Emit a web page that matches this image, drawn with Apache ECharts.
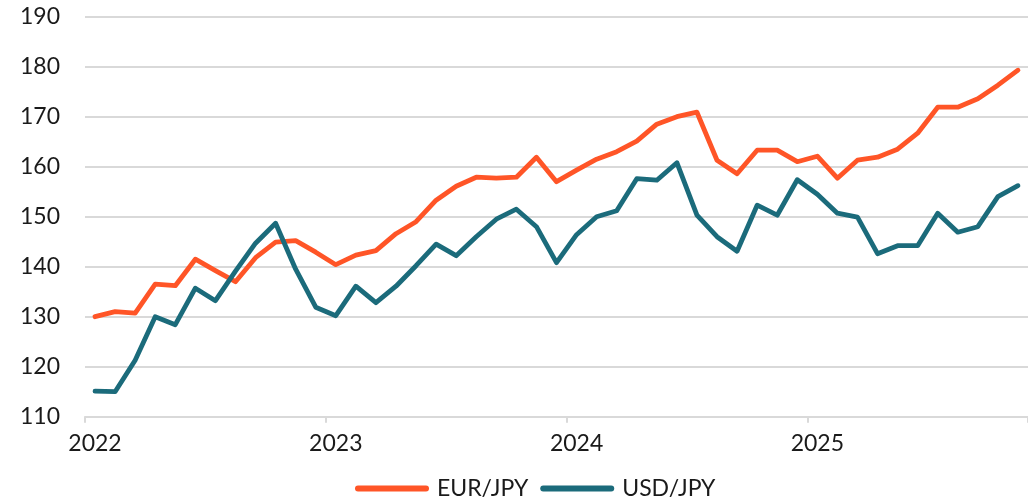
<!DOCTYPE html>
<html>
<head>
<meta charset="utf-8">
<script src="https://cdn.jsdelivr.net/npm/echarts@6/dist/echarts.min.js"></script>
<style>
  html, body { margin: 0; padding: 0; background: #ffffff; }
  #chart { width: 1028px; height: 500px; }
</style>
</head>
<body>
<div id="chart"></div>
<script>
const years = ['2022', '2023', '2024', '2025'];
const monthsInLastYear = 11;

const eurJpy = [
  130.0, 131.0, 130.7, 136.5, 136.2, 141.5, 139.2, 137.0, 141.8, 144.9, 145.2, 142.9,
  140.4, 142.3, 143.2, 146.6, 149.0, 153.3, 156.1, 157.9, 157.7, 157.9, 161.9, 157.0,
  159.3, 161.5, 163.0, 165.1, 168.5, 170.0, 170.9, 161.3, 158.6, 163.3, 163.3, 161.0,
  162.1, 157.7, 161.3, 161.9, 163.5, 166.7, 171.9, 171.9, 173.6, 176.3, 179.3
];

const usdJpy = [
  115.1, 115.0, 121.3, 130.0, 128.4, 135.7, 133.2, 139.1, 144.7, 148.7, 139.5, 131.9,
  130.2, 136.1, 132.8, 136.1, 140.2, 144.5, 142.2, 146.0, 149.5, 151.5, 148.0, 140.8,
  146.4, 150.0, 151.2, 157.6, 157.3, 160.8, 150.3, 146.0, 143.1, 152.3, 150.3, 157.4,
  154.5, 150.7, 149.9, 142.6, 144.2, 144.2, 150.7, 146.9, 148.0, 154.0, 156.2
];

// Monthly categories, e.g. "2022-01"
const categories = [];
years.forEach((y, yi) => {
  const n = yi === years.length - 1 ? monthsInLastYear : 12;
  for (let m = 1; m <= n; m++) categories.push(y + '-' + String(m).padStart(2, '0'));
});

const FONT = 'Lato';
const chart = echarts.init(document.getElementById('chart'), null, { renderer: 'canvas' });

chart.setOption({
  animation: false,
  textStyle: { fontFamily: FONT },
  grid: { left: 85, right: 0, top: 16.7, bottom: 83.3, containLabel: false },
  legend: {
    top: 477,
    left: 355,
    padding: 0,
    itemWidth: 74,
    itemHeight: 6,
    itemGap: 12,
    icon: 'path://M3,0 L71,0 A3,3 0 0 1 71,6 L3,6 A3,3 0 0 1 3,0 Z',
    textStyle: { fontFamily: FONT, fontSize: 23, color: '#1a1a1a', padding: [0, 0, 0, 3] },
    data: ['EUR/JPY', 'USD/JPY']
  },
  xAxis: {
    type: 'category',
    data: categories,
    boundaryGap: true,
    axisLine: { show: true, lineStyle: { color: '#d9d9d9', width: 2 } },
    axisTick: { show: true, interval: 11, length: 6, lineStyle: { color: '#d9d9d9', width: 2 } },
    axisLabel: {
      interval: 11,
      margin: 15,
      fontFamily: FONT,
      fontSize: 23,
      color: '#1a1a1a',
      formatter: v => v.slice(0, 4)
    },
    splitLine: { show: false }
  },
  yAxis: {
    type: 'value',
    min: 110,
    max: 190,
    interval: 10,
    axisLine: { show: false },
    axisTick: { show: false },
    axisLabel: { margin: 25, fontFamily: FONT, fontSize: 23, color: '#1a1a1a' },
    splitLine: { show: true, lineStyle: { color: '#d9d9d9', width: 2 } }
  },
  series: [
    {
      name: 'EUR/JPY',
      type: 'line',
      data: eurJpy,
      symbol: 'none',
      color: '#ff5527',
      lineStyle: { color: '#ff5527', width: 4.8, cap: 'round', join: 'round' },
      z: 3
    },
    {
      name: 'USD/JPY',
      type: 'line',
      data: usdJpy,
      symbol: 'none',
      color: '#1b6b7b',
      lineStyle: { color: '#1b6b7b', width: 4.8, cap: 'round', join: 'round' },
      z: 4
    }
  ]
});
</script>
</body>
</html>
